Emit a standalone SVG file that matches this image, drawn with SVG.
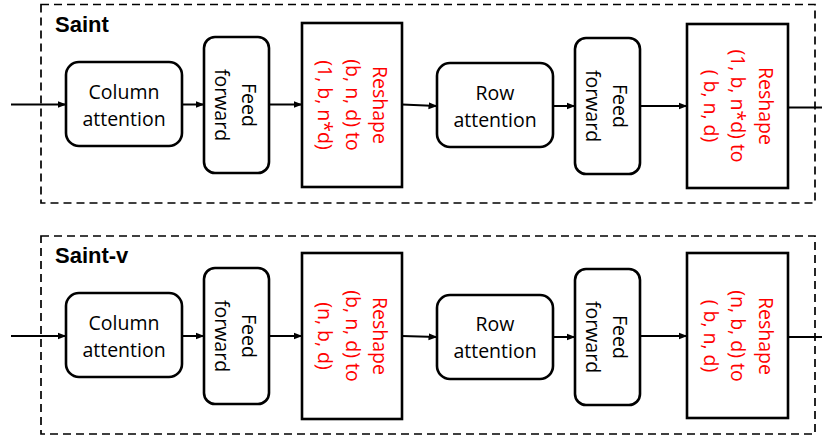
<svg xmlns="http://www.w3.org/2000/svg" width="822" height="440" viewBox="0 0 822 440">
<style>
.panel{fill:none;stroke:#000;stroke-width:1.7;stroke-dasharray:8 5}
.box{fill:#fff;stroke:#000;stroke-width:2.6}
.t{font-family:"Open Sans","Liberation Sans",sans-serif;font-size:19.5px;fill:#000;text-anchor:middle}
.r{font-family:"Open Sans","Liberation Sans",sans-serif;font-size:19.5px;fill:#ff0000;text-anchor:middle}
.title{font-family:"Liberation Sans",Arial,sans-serif;font-size:22px;font-weight:bold;fill:#000}
.c{fill:none;stroke:#000;stroke-width:2;marker-end:url(#ah)}
.c0{fill:none;stroke:#000;stroke-width:2}
</style>
<defs>
<marker id="ah" markerWidth="9" markerHeight="8" refX="8.5" refY="4" orient="auto" markerUnits="userSpaceOnUse">
<path d="M0,0.5 L9,4 L0,7.5 Z" fill="#000"/>
</marker>
</defs>
<rect x="0" y="0" width="822" height="440" fill="#fff"/>

<g id="panel-saint">
<rect class="panel" x="41" y="4.5" width="774" height="198.5"/>
<text class="title" x="55" y="31.5">Saint</text>
</g>
<g id="panel-saint-v">
<rect class="panel" x="41" y="236" width="774" height="198"/>
<text class="title" x="55" y="262.5">Saint-v</text>
</g>

<g id="connectors">
<path class="c" d="M11,104.5 L66,104.5"/>
<path class="c" d="M182,104.5 L204,104.5"/>
<path class="c" d="M269,104.5 L302,104.5"/>
<path class="c" d="M402,104.5 L437,106"/>
<path class="c" d="M553,106 L575,106"/>
<path class="c" d="M640,106 L687,106"/>
<path class="c0" d="M788,107.5 L822,107.5"/>

<path class="c" d="M11,336 L66,336"/>
<path class="c" d="M182,336 L204,336"/>
<path class="c" d="M269,336 L302,336"/>
<path class="c" d="M402,336 L437,337"/>
<path class="c" d="M553,337 L575,337"/>
<path class="c" d="M640,336 L687,336"/>
<path class="c0" d="M788,337 L822,337"/>
</g>

<g id="s-col">
<rect class="box" x="66" y="62" width="116" height="84" rx="13"/>
<text class="t" x="124" y="98.5">Column</text>
<text class="t" x="124" y="125.5">attention</text>
</g>
<g id="s-ff1">
<rect class="box" x="204" y="37" width="65" height="136" rx="11"/>
<g transform="translate(236.5,105) rotate(90)">
<text class="t" x="0" y="-5.5">Feed</text>
<text class="t" x="0" y="21.5">forward</text>
</g>
</g>
<g id="s-reshape1">
<rect class="box" x="302" y="23" width="100" height="164"/>
<g transform="translate(352,105) rotate(90)">
<text class="r" x="0" y="-21">Reshape</text>
<text class="r" x="0" y="6.5">(b, n, d) to</text>
<text class="r" x="0" y="34">(1, b, n*d)</text>
</g>
</g>
<g id="s-row">
<rect class="box" x="437" y="63" width="116" height="84" rx="13"/>
<text class="t" x="495" y="99.5">Row</text>
<text class="t" x="495" y="126.5">attention</text>
</g>
<g id="s-ff2">
<rect class="box" x="575" y="38" width="65" height="136" rx="11"/>
<g transform="translate(607.5,106) rotate(90)">
<text class="t" x="0" y="-5.5">Feed</text>
<text class="t" x="0" y="21.5">forward</text>
</g>
</g>
<g id="s-reshape2">
<rect class="box" x="687" y="24" width="101" height="164"/>
<g transform="translate(737.5,106) rotate(90)">
<text class="r" x="0" y="-21">Reshape</text>
<text class="r" x="0" y="6.5">(1, b, n*d) to</text>
<text class="r" x="0" y="34">( b, n, d)</text>
</g>
</g>

<g id="v-col">
<rect class="box" x="66" y="293" width="116" height="84" rx="13"/>
<text class="t" x="124" y="329.5">Column</text>
<text class="t" x="124" y="356.5">attention</text>
</g>
<g id="v-ff1">
<rect class="box" x="204" y="268" width="65" height="136" rx="11"/>
<g transform="translate(236.5,336) rotate(90)">
<text class="t" x="0" y="-5.5">Feed</text>
<text class="t" x="0" y="21.5">forward</text>
</g>
</g>
<g id="v-reshape1">
<rect class="box" x="302" y="253" width="100" height="166"/>
<g transform="translate(352,336) rotate(90)">
<text class="r" x="0" y="-21">Reshape</text>
<text class="r" x="0" y="6.5">(b, n, d) to</text>
<text class="r" x="0" y="34">(n, b, d)</text>
</g>
</g>
<g id="v-row">
<rect class="box" x="437" y="295" width="116" height="84" rx="13"/>
<text class="t" x="495" y="331">Row</text>
<text class="t" x="495" y="358">attention</text>
</g>
<g id="v-ff2">
<rect class="box" x="575" y="269" width="65" height="136" rx="11"/>
<g transform="translate(607.5,337) rotate(90)">
<text class="t" x="0" y="-5.5">Feed</text>
<text class="t" x="0" y="21.5">forward</text>
</g>
</g>
<g id="v-reshape2">
<rect class="box" x="687" y="253" width="101" height="165"/>
<g transform="translate(737.5,336) rotate(90)">
<text class="r" x="0" y="-21">Reshape</text>
<text class="r" x="0" y="6.5">(n, b, d) to</text>
<text class="r" x="0" y="34">( b, n, d)</text>
</g>
</g>
</svg>
